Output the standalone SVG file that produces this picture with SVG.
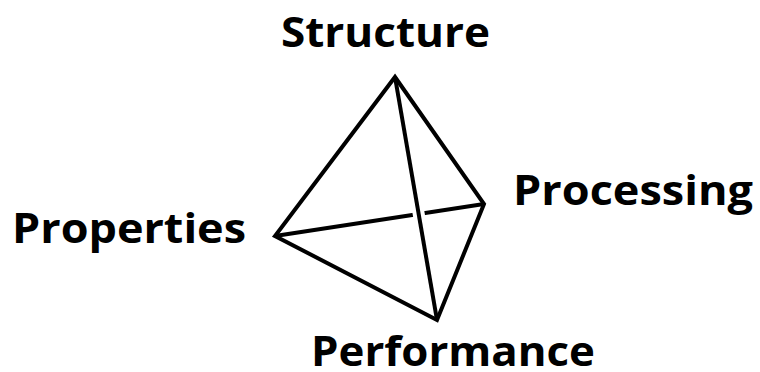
<svg xmlns="http://www.w3.org/2000/svg" width="760" height="372" viewBox="0 0 760 372">
  <style>
    .label { font-family: "Open Sans", "Liberation Sans", sans-serif; font-weight: 700; font-size: 42px; fill: #000; }
    .edge { fill: none; stroke: #000; stroke-width: 4; stroke-linejoin: miter; stroke-linecap: butt; }
    .halo { fill: none; stroke: #fff; stroke-width: 12; }
  </style>
  <rect width="760" height="372" fill="#fff"/>

  <!-- tetrahedron edges -->
  <g id="connectors">
    <!-- hidden back edge: Properties to Processing -->
    <line class="edge" x1="275" y1="236" x2="484" y2="204"/>
    <!-- gap where the front edge passes over the back edge -->
    <line class="halo" x1="416" y1="198.5" x2="421.5" y2="230"/>
    <!-- outline -->
    <path class="edge" d="M395 77 L484 204 L437 320 L275 236 Z"/>
    <!-- front edge: Structure to Performance -->
    <line class="edge" x1="395" y1="77" x2="437" y2="320"/>
  </g>

  <g id="structure">
    <text class="label" x="281" y="47" textLength="209" lengthAdjust="spacingAndGlyphs">Structure</text>
  </g>
  <g id="properties">
    <text class="label" x="12" y="243" textLength="234" lengthAdjust="spacingAndGlyphs">Properties</text>
  </g>
  <g id="processing">
    <text class="label" x="513" y="205" textLength="240" lengthAdjust="spacingAndGlyphs">Processing</text>
  </g>
  <g id="performance">
    <text class="label" x="311" y="366" textLength="284" lengthAdjust="spacingAndGlyphs">Performance</text>
  </g>
</svg>
